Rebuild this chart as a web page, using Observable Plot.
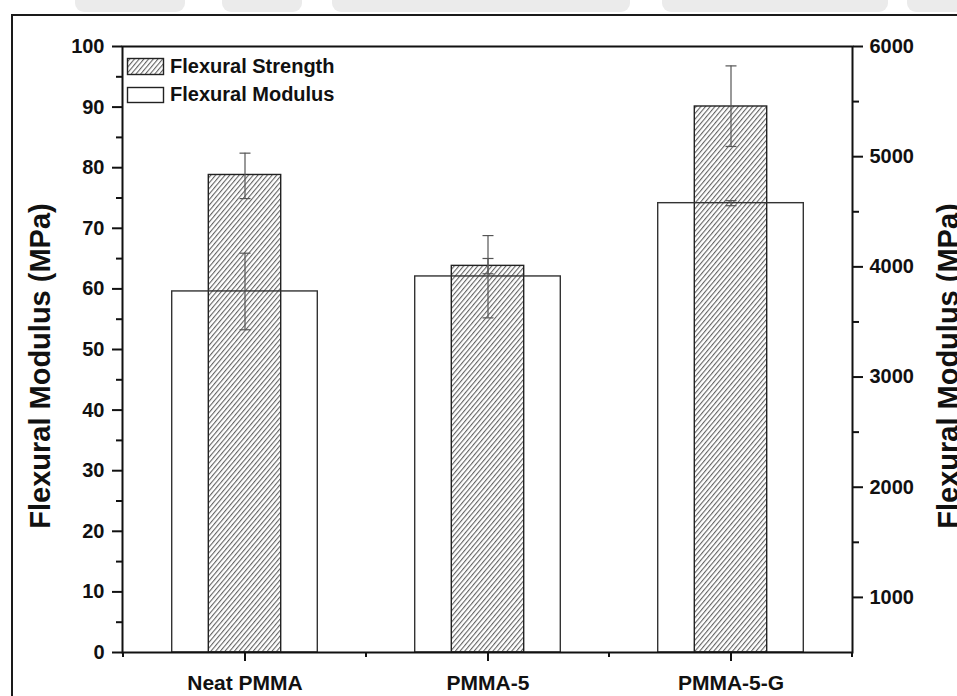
<!DOCTYPE html>
<html>
<head>
<meta charset="utf-8">
<script src="https://cdn.jsdelivr.net/npm/d3@7"></script>
<script src="https://cdn.jsdelivr.net/npm/@observablehq/plot@0.6"></script>
<style>
  html, body { margin: 0; padding: 0; background: #fff; }
  #chart { position: relative; width: 957px; height: 696px; overflow: hidden; }
</style>
</head>
<body>
<div id="chart"></div>
<script>
// Samples on the category axis
const categories = ["Neat PMMA", "PMMA-5", "PMMA-5-G"];

// Flexural strength (left axis, MPa) with error-bar ends
const strength     = [78.8, 63.8, 90.1];
const strengthLow  = [74.9, 62.5, 83.5];
const strengthHigh = [82.4, 68.8, 96.8];

// Flexural modulus (right axis, MPa) with error-bar ends
const modulus     = [3777, 3913, 4578];
const modulusLow  = [3429, 3537, 4555];
const modulusHigh = [4124, 4076, 4601];

// Axis ticks
const leftTicks  = [0, 10, 20, 30, 40, 50, 60, 70, 80, 90, 100];
const leftMinor  = [5, 15, 25, 35, 45, 55, 65, 75, 85, 95];
const rightTicks = [1000, 2000, 3000, 4000, 5000, 6000];
const rightMinor = [1500, 2500, 3500, 4500, 5500];
const leftDomain  = [0, 100];
const rightDomain = [500, 6000];

const seriesNames = ["Flexural Strength", "Flexural Modulus"];
const axisTitle = "Flexural Modulus (MPa)";

// Right-axis values expressed in left-axis units so both share one y scale
const toLeft = d3.scaleLinear().domain(rightDomain).range(leftDomain);

const rows = categories.map((cat, i) => ({
  cat,
  s: strength[i], sLo: strengthLow[i], sHi: strengthHigh[i],
  m: toLeft(modulus[i]), mLo: toLeft(modulusLow[i]), mHi: toLeft(modulusHigh[i])
}));
const caps = rows.flatMap(r => [
  {cat: r.cat, v: r.sLo}, {cat: r.cat, v: r.sHi},
  {cat: r.cat, v: r.mLo}, {cat: r.cat, v: r.mHi}
]);

// Short horizontal line used as an error-bar cap
const capSymbol = {
  draw(context) {
    context.moveTo(-5.5, 0);
    context.lineTo(5.5, 0);
  }
};

const FONT = "'Liberation Sans', Arial, Helvetica, sans-serif";
const INK = "#111";

const plot = Plot.plot({
  width: 957,
  height: 696,
  marginLeft: 122,
  marginRight: 105,
  marginTop: 46,
  marginBottom: 44,
  style: {fontFamily: FONT, fontSize: "20px", fontWeight: "bold", color: INK, background: "transparent", overflow: "visible"},
  x: {domain: categories, padding: 0},
  y: {domain: leftDomain},
  marks: [
    // hatched strength bars
    Plot.barY(rows, {x: "cat", y: "s", fill: "url(#hatch)", stroke: "#222", strokeWidth: 1.4, insetLeft: 85.3, insetRight: 85.3}),
    // open modulus bars (outline only, top edge crosses the hatched bars)
    Plot.barY(rows, {x: "cat", y: "m", fill: "none", stroke: "#333", strokeWidth: 1.4, insetLeft: 48.7, insetRight: 48.7}),
    // error bars
    Plot.ruleX(rows, {x: "cat", y1: "sLo", y2: "sHi", stroke: "#555", strokeWidth: 1.2}),
    Plot.ruleX(rows, {x: "cat", y1: "mLo", y2: "mHi", stroke: "#555", strokeWidth: 1.2}),
    Plot.dot(caps, {x: "cat", y: "v", symbol: capSymbol, r: 3, fill: "none", stroke: "#555", strokeWidth: 1.2}),
    Plot.frame({stroke: INK, strokeWidth: 2}),
    // left axis
    Plot.axisY({ticks: leftTicks, tickSize: 10, tickPadding: 8, strokeWidth: 2, stroke: INK, fontSize: 20, label: null}),
    Plot.axisY({ticks: leftMinor, tickSize: 6, strokeWidth: 2, stroke: INK, tickFormat: () => "", label: null}),
    // right axis
    Plot.axisY({anchor: "right", ticks: rightTicks.map(toLeft), tickFormat: d => String(Math.round(toLeft.invert(d))),
      tickSize: 10, tickPadding: 7, strokeWidth: 2, stroke: INK, fontSize: 20, label: null}),
    Plot.axisY({anchor: "right", ticks: rightMinor.map(toLeft), tickFormat: () => "", tickSize: 6, strokeWidth: 2, stroke: INK, label: null}),
    // category axis
    Plot.axisX({tickSize: 9, tickPadding: 14, strokeWidth: 2, stroke: INK, fontSize: 21, label: null})
  ]
});

document.getElementById("chart").appendChild(plot);
const svg = d3.select(plot);

// hatch pattern for the strength bars
const defs = svg.insert("defs", ":first-child");
const pat = defs.append("pattern")
  .attr("id", "hatch")
  .attr("patternUnits", "userSpaceOnUse")
  .attr("width", 3.6).attr("height", 10)
  .attr("patternTransform", "rotate(40)");
pat.append("rect").attr("width", 3.6).attr("height", 10).attr("fill", "#fff");
pat.append("line").attr("x1", 0.6).attr("y1", 0).attr("x2", 0.6).attr("y2", 10)
  .attr("stroke", "#4a4a4a").attr("stroke-width", 0.95);

// faint band across the very top of the figure
const band = svg.insert("g", "defs + *").attr("fill", "#ebebeb");
[[75, 110], [222, 80], [332, 298], [662, 226], [907, 60]].forEach(([x, w]) => {
  band.append("rect").attr("x", x).attr("y", -8).attr("width", w).attr("height", 20).attr("rx", 9);
});

// outer figure border
svg.append("path").attr("d", "M12,700V15H960").attr("fill", "none").attr("stroke", "#1a1a1a").attr("stroke-width", 2);

// minor ticks on the category axis at the band boundaries
const xs = plot.scale("x");
const yBottom = 696 - 44;
const bounds = categories.map(c => xs.apply(c)).concat([xs.apply(categories[categories.length - 1]) + xs.bandwidth]);
svg.append("g").attr("stroke", INK).attr("stroke-width", 2)
  .selectAll("line").data(bounds).join("line")
  .attr("x1", d => d).attr("x2", d => d).attr("y1", yBottom).attr("y2", yBottom + 5);

// axis titles
svg.append("text").attr("transform", "translate(50,366) rotate(-90)")
  .attr("text-anchor", "middle").attr("font-size", 29).attr("font-weight", "bold").attr("fill", INK)
  .text(axisTitle);
svg.append("text").attr("transform", "translate(958,366) rotate(-90)")
  .attr("text-anchor", "middle").attr("font-size", 29).attr("font-weight", "bold").attr("fill", INK)
  .text(axisTitle);

// legend
const lg = svg.append("g").attr("font-size", 20).attr("font-weight", "bold").attr("fill", INK)
  .attr("text-anchor", "start");
lg.append("rect").attr("x", 127.5).attr("y", 58.5).attr("width", 36).attr("height", 16)
  .attr("fill", "url(#hatch)").attr("stroke", "#222").attr("stroke-width", 1.4);
lg.append("text").attr("x", 170).attr("y", 73).text(seriesNames[0]);
lg.append("rect").attr("x", 127.5).attr("y", 87.5).attr("width", 36).attr("height", 15)
  .attr("fill", "#fff").attr("stroke", "#222").attr("stroke-width", 1.4);
lg.append("text").attr("x", 170).attr("y", 101).text(seriesNames[1]);
</script>
</body>
</html>
